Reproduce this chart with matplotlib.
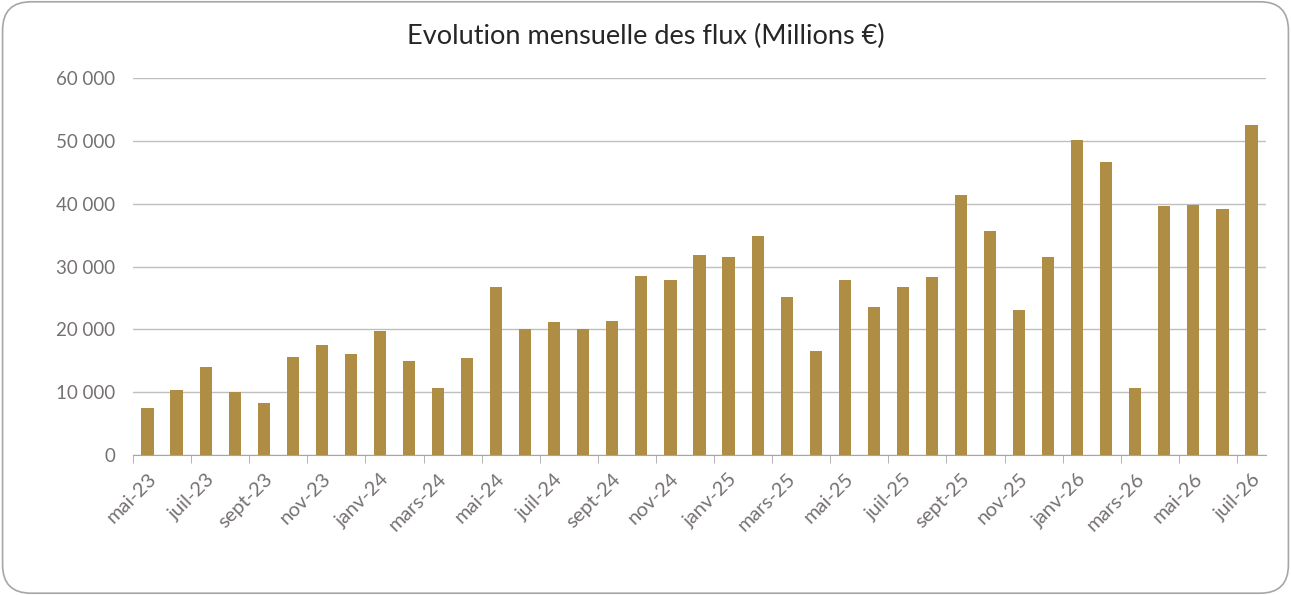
import numpy as np
import matplotlib.pyplot as plt
from matplotlib.patches import FancyBboxPatch
from matplotlib.ticker import FuncFormatter

months = ['mai', 'juin', 'juil', 'août', 'sept', 'oct', 'nov', 'déc',
          'janv', 'févr', 'mars', 'avr']
labels = []
for i in range(39):
    yr = 23 + (4 + i) // 12
    labels.append('{}-{}'.format(months[i % 12], yr))

flux = [7500, 10400, 14000, 10000, 8200, 15600, 17500, 16100, 19800, 14900,
        10700, 15500, 26800, 20000, 21200, 20000, 21300, 28500, 27900, 31800,
        31500, 34900, 25200, 16500, 27900, 23600, 26800, 28300, 41400, 35600,
        23100, 31500, 50100, 46600, 10600, 39600, 39800, 39100, 52500]

bar_color = '#B08D45'
text_color = '#767171'

plt.rcParams['font.family'] = ['Lato', 'DejaVu Sans']

fig = plt.figure(figsize=(12.91, 5.95), dpi=100)
frame = FancyBboxPatch((0.002, 0.003), 0.996, 0.994,
                       boxstyle='round,pad=0,rounding_size=0.022',
                       transform=fig.transFigure, facecolor='white',
                       edgecolor='#A6A6A6', linewidth=1.2,
                       mutation_aspect=1291 / 595, zorder=-1)
fig.patches.append(frame)

ax = fig.add_axes([133 / 1291, 1 - 455 / 595, (1266 - 133) / 1291, (455 - 78) / 595])
ax.set_facecolor('none')
x = np.arange(len(flux))
ax.bar(x, flux, width=0.42, color=bar_color, zorder=3)

ax.set_xlim(-0.5, len(flux) - 0.5)
ax.set_ylim(0, 60000)
ax.set_yticks(np.arange(0, 60001, 10000))
ax.yaxis.set_major_formatter(FuncFormatter(lambda v, p: '{:,.0f}'.format(v).replace(',', ' ')))
ax.grid(axis='y', color='#BFBFBF', linewidth=1, zorder=0)

ax.set_xticks(x[::2])
ax.set_xticklabels(labels[::2], rotation=45, ha='right', rotation_mode='anchor')
ax.set_xticks(np.arange(-0.5, len(flux), 2), minor=True)
ax.tick_params(axis='x', which='major', length=0, pad=11, labelsize=14.5, labelcolor=text_color)
ax.tick_params(axis='x', which='minor', length=6, color='#A6A6A6')
ax.tick_params(axis='y', length=0, pad=13, labelsize=13.5, labelcolor=text_color)

for s in ['top', 'right', 'left']:
    ax.spines[s].set_visible(False)
ax.spines['bottom'].set_color('#A6A6A6')

fig.text(0.5, 1 - 36 / 595, 'Evolution mensuelle des flux (Millions €)',
         ha='center', va='center', fontsize=19.5, color='#262626')

fig.savefig('out.png', dpi=100)
